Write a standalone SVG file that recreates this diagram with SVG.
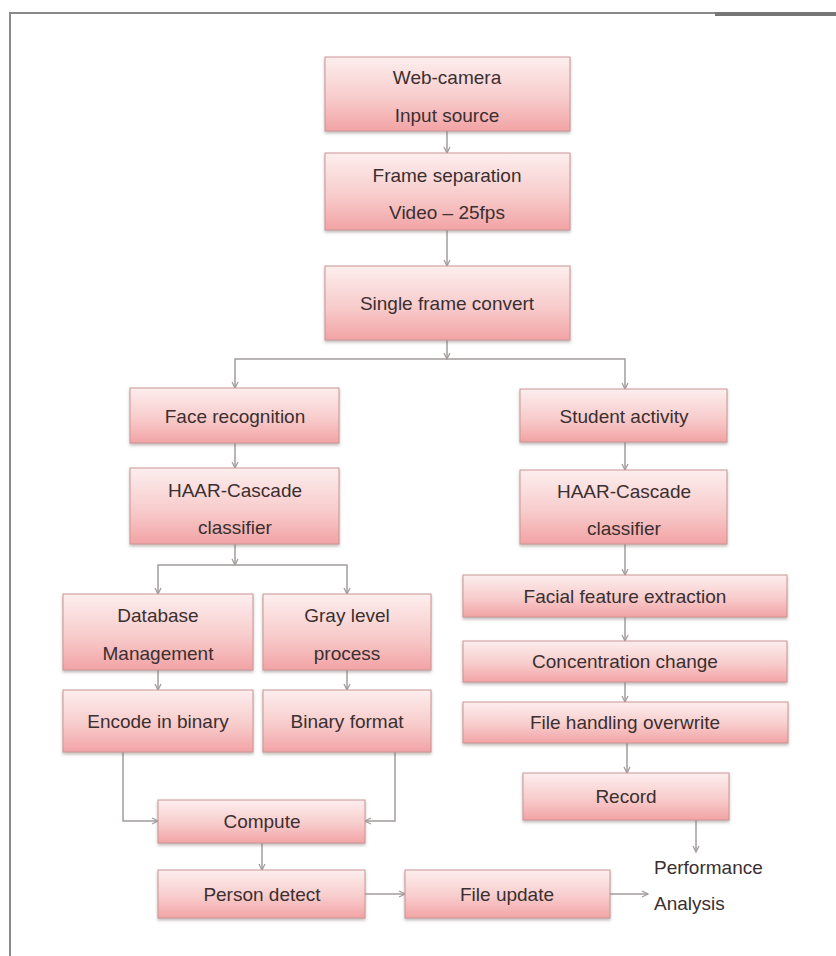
<svg xmlns="http://www.w3.org/2000/svg" width="836" height="956" viewBox="0 0 836 956">
<style>
.box{fill:url(#pink);stroke:#c99595;stroke-width:1;filter:url(#sh)}
.t{font-family:"Liberation Sans",Arial,sans-serif;font-size:19px;fill:#3b2f30;text-anchor:middle}
.tl{font-family:"Liberation Sans",Arial,sans-serif;font-size:19px;fill:#3b2f30}
.c{fill:none;stroke:#a39c9c;stroke-width:1.5;marker-end:url(#ah)}
</style>
<defs>
<linearGradient id="pink" x1="0" y1="0" x2="0" y2="1">
<stop offset="0" stop-color="#fdeeee"/>
<stop offset="0.55" stop-color="#f8cccc"/>
<stop offset="1" stop-color="#f2a3a5"/>
</linearGradient>
<filter id="sh" x="-5%" y="-10%" width="110%" height="130%">
<feDropShadow dx="0" dy="2" stdDeviation="1.5" flood-color="#7a6a6a" flood-opacity="0.45"/>
</filter>
<marker id="ah" markerWidth="8" markerHeight="8" refX="7" refY="4" orient="auto" markerUnits="userSpaceOnUse">
<path d="M1,1 L7,4 L1,7" fill="none" stroke="#a39c9c" stroke-width="1.3"/>
</marker>
</defs>
<rect width="836" height="956" fill="#ffffff"/>
<g id="frame">
<line x1="10" y1="13" x2="715" y2="13" stroke="#8a8a8a" stroke-width="2"/>
<line x1="715" y1="14" x2="836" y2="14" stroke="#777" stroke-width="4"/>
<line x1="10" y1="12" x2="10" y2="956" stroke="#8a8a8a" stroke-width="2"/>
</g>
<g id="connectors">
<path class="c" d="M447,131 V153"/>
<path class="c" d="M447,230 V266"/>
<path class="c" d="M447,340 V359"/>
<path class="c" d="M447,359 H235 V388"/>
<path class="c" d="M447,359 H625 V389"/>
<path class="c" d="M235,443 V468"/>
<path class="c" d="M235,544 V565"/>
<path class="c" d="M235,565 H158 V594"/>
<path class="c" d="M235,565 H347 V594"/>
<path class="c" d="M158,670 V690"/>
<path class="c" d="M347,670 V690"/>
<path class="c" d="M123,752 V821 H158"/>
<path class="c" d="M395,752 V821 H365"/>
<path class="c" d="M262,843 V870"/>
<path class="c" d="M365,894 H405"/>
<path class="c" d="M610,894 H648"/>
<path class="c" d="M625,442 V470"/>
<path class="c" d="M625,544 V575"/>
<path class="c" d="M625,617 V641"/>
<path class="c" d="M625,682 V702"/>
<path class="c" d="M627,743 V773"/>
<path class="c" d="M696,820 V852"/>
</g>
<g id="n-webcam"><rect class="box" x="325" y="57" width="245" height="74"/><text class="t" x="447" y="84">Web-camera</text><text class="t" x="447" y="122">Input source</text></g>
<g id="n-frame"><rect class="box" x="325" y="153" width="245" height="77"/><text class="t" x="447" y="182">Frame separation</text><text class="t" x="447" y="219">Video – 25fps</text></g>
<g id="n-single"><rect class="box" x="325" y="266" width="245" height="74"/><text class="t" x="447" y="310">Single frame convert</text></g>
<g id="n-face"><rect class="box" x="130" y="388" width="209" height="55"/><text class="t" x="235" y="423">Face recognition</text></g>
<g id="n-haar1"><rect class="box" x="130" y="468" width="209" height="76"/><text class="t" x="235" y="497">HAAR-Cascade</text><text class="t" x="235" y="534">classifier</text></g>
<g id="n-db"><rect class="box" x="63" y="594" width="190" height="76"/><text class="t" x="158" y="622">Database</text><text class="t" x="158" y="660">Management</text></g>
<g id="n-gray"><rect class="box" x="263" y="594" width="168" height="76"/><text class="t" x="347" y="622">Gray level</text><text class="t" x="347" y="660">process</text></g>
<g id="n-encode"><rect class="box" x="63" y="690" width="190" height="62"/><text class="t" x="158" y="728">Encode in binary</text></g>
<g id="n-binary"><rect class="box" x="263" y="690" width="168" height="62"/><text class="t" x="347" y="728">Binary format</text></g>
<g id="n-compute"><rect class="box" x="158" y="800" width="207" height="43"/><text class="t" x="262" y="828">Compute</text></g>
<g id="n-person"><rect class="box" x="158" y="870" width="207" height="48"/><text class="t" x="262" y="901">Person detect</text></g>
<g id="n-fileupd"><rect class="box" x="405" y="870" width="205" height="48"/><text class="t" x="507" y="901">File update</text></g>
<g id="n-student"><rect class="box" x="520" y="389" width="207" height="53"/><text class="t" x="624" y="423">Student activity</text></g>
<g id="n-haar2"><rect class="box" x="520" y="470" width="207" height="74"/><text class="t" x="624" y="498">HAAR-Cascade</text><text class="t" x="624" y="535">classifier</text></g>
<g id="n-facial"><rect class="box" x="463" y="575" width="324" height="42"/><text class="t" x="625" y="603">Facial feature extraction</text></g>
<g id="n-conc"><rect class="box" x="463" y="641" width="324" height="41"/><text class="t" x="625" y="668">Concentration change</text></g>
<g id="n-filehand"><rect class="box" x="463" y="702" width="325" height="41"/><text class="t" x="625" y="729">File handling overwrite</text></g>
<g id="n-record"><rect class="box" x="523" y="773" width="206" height="47"/><text class="t" x="626" y="803">Record</text></g>
<g id="n-perf"><text class="tl" x="654" y="874">Performance</text><text class="tl" x="654" y="910">Analysis</text></g>
</svg>
